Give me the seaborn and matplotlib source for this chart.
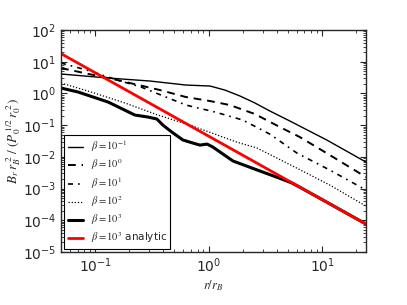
import numpy as np
import pandas as pd
import seaborn as sns
from matplotlib import pyplot as plt
from matplotlib import ticker

# values (r/r_B, B_r r_B^2 / (P0^1/2 r0^2))
r_b01 = [0.05, 0.13, 0.304, 0.63, 1.03, 1.39, 1.89, 2.56, 3.47, 5.2, 11.0, 24.4]
v_b01 = [4.1, 3.06, 2.46, 1.84, 1.71, 1.28, 0.83, 0.50, 0.279, 0.135, 0.034, 0.00685]

r_b1 = [0.05, 0.156, 0.372, 0.631, 1.03, 1.54, 2.56, 4.25, 6.38, 11.7, 24.4]
v_b1 = [6.3, 2.65, 1.28, 0.77, 0.575, 0.43, 0.224, 0.087, 0.042, 0.0114, 0.0023]

r_b10 = [0.05, 0.09, 0.156, 0.254, 0.631, 1.14, 2.0, 3.47, 6.0, 11.7, 24.4]
v_b10 = [9.1, 5.1, 2.65, 1.59, 0.43, 0.259, 0.145, 0.052, 0.0132, 0.00384, 0.0009]

r_b100 = [0.05, 0.092, 0.183, 0.358, 0.686, 1.78, 2.67, 6.0, 11.7, 24.4]
v_b100 = [2.13, 1.11, 0.50, 0.208, 0.10, 0.029, 0.019, 0.0044, 0.00129, 0.00028]

r_b1000 = [0.05, 0.0706, 0.13, 0.224, 0.292, 0.35, 0.396, 0.475, 0.594, 0.728,
           0.84, 0.97, 1.09, 1.64, 2.56, 4.25, 5.42, 6.38, 11.7, 24.4]
v_b1000 = [1.48, 1.11, 0.536, 0.208, 0.18, 0.156, 0.10, 0.060, 0.034, 0.0272,
           0.0235, 0.0253, 0.0204, 0.0074, 0.0041, 0.0021, 0.0015, 0.0011, 0.00033, 0.000076]

r_analytic = [0.05, 1.0, 24.4]
v_analytic = [18.0, 0.045, 0.000076]

labels = [r'$\beta=10^{-1}$', r'$\beta=10^{0}$', r'$\beta=10^{1}$',
          r'$\beta=10^{2}$', r'$\beta=10^{3}$', r'$\beta=10^{3}$ analytic']

sns.set_style("ticks")
plt.rcParams['font.family'] = ['DejaVu Sans']
plt.rcParams['xtick.direction'] = 'in'
plt.rcParams['ytick.direction'] = 'in'
plt.rcParams['xtick.top'] = True
plt.rcParams['ytick.right'] = True

fig = plt.figure(figsize=(4.07, 3.05), dpi=100)
ax = fig.add_axes([61/407, 53/305, 305/407, 222/305])

series = [
    (r_b01, v_b01, dict(color='black', linestyle='-', linewidth=1.0)),
    (r_b1, v_b1, dict(color='black', linestyle=(0, (4, 3)), linewidth=1.4)),
    (r_b10, v_b10, dict(color='black', linestyle=(0, (3, 3, 1, 3)), linewidth=1.2)),
    (r_b100, v_b100, dict(color='black', linestyle=(0, (1, 1.5)), linewidth=0.9)),
    (r_b1000, v_b1000, dict(color='black', linestyle='-', linewidth=2.2)),
    (r_analytic, v_analytic, dict(color='red', linestyle='-', linewidth=2.0)),
]
for (rr, vv, kw), lab in zip(series, labels):
    sns.lineplot(x=rr, y=vv, ax=ax, estimator=None, sort=False, label=lab, **kw)

ax.set_xscale('log')
ax.set_yscale('log')
ax.set_xlim(0.05, 24.4)
ax.set_ylim(1e-5, 1e2)
ax.yaxis.set_major_locator(ticker.LogLocator(base=10, numticks=20))
ax.yaxis.set_minor_locator(ticker.LogLocator(base=10, subs=np.arange(2, 10), numticks=20))
ax.xaxis.set_minor_formatter(ticker.NullFormatter())
ax.yaxis.set_minor_formatter(ticker.NullFormatter())
ax.tick_params(which='major', length=4, width=0.8, labelsize=10)
ax.tick_params(which='minor', length=2, width=0.6)
for s in ax.spines.values():
    s.set_linewidth(1.0)

ax.set_xlabel(r'$r/r_B$', fontsize=9, math_fontfamily='stix', labelpad=2)
ax.set_ylabel(r'$B_r\, r_B^{\ 2}\ /\ (P_0^{\,1/2}\, r_0^{\ 2})$', fontsize=9.5,
              math_fontfamily='stix', labelpad=0)

leg = ax.legend(loc='lower left', fontsize=7.5, handlelength=1.5, handletextpad=0.7,
                borderaxespad=0.3, fancybox=False, framealpha=1, edgecolor='black',
                labelspacing=0.3, borderpad=0.35)
leg.get_frame().set_linewidth(0.8)
for t in leg.get_texts():
    t.set_math_fontfamily('stix')

fig.savefig('out.png', dpi=100)
